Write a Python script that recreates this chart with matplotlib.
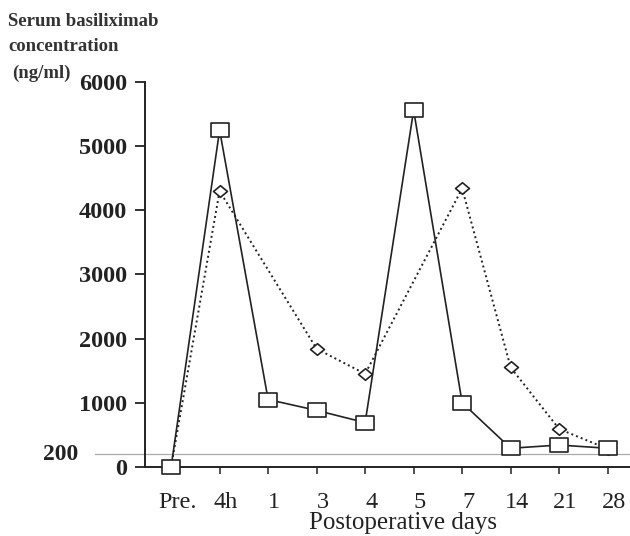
import matplotlib.pyplot as plt
import numpy as np
from matplotlib.path import Path
from matplotlib.transforms import blended_transform_factory

days = ['Pre.', '4h', '1', '3', '4', '5', '7', '14', '21', '28']
squares = [0, 5250, 1050, 880, 690, 5560, 1000, 290, 340, 290]
diamonds = [0, 4300, np.nan, 1840, 1450, np.nan, 4340, 1550, 590, 280]

plt.rcParams['font.family'] = ['Liberation Serif', 'DejaVu Serif']
ink = '#222222'

# wider-than-tall boxes and diamonds, like the scan
box = Path([(-0.7, -0.5), (0.7, -0.5), (0.7, 0.5), (-0.7, 0.5), (-0.7, -0.5)],
           [Path.MOVETO, Path.LINETO, Path.LINETO, Path.LINETO, Path.CLOSEPOLY])
dia = Path([(-0.6, 0), (0, 0.5), (0.6, 0), (0, -0.5), (-0.6, 0)],
           [Path.MOVETO, Path.LINETO, Path.LINETO, Path.LINETO, Path.CLOSEPOLY])

fig = plt.figure(figsize=(6.3, 5.36), dpi=100)
ax = fig.add_axes([0.230, 0.129, 0.77, 0.718])

x = np.arange(len(days))
d = np.array(diamonds)
ok = ~np.isnan(d)
ax.plot(x[ok], d[ok], linestyle=(0, (1, 1.6)), color=ink, lw=1.4,
        marker=dia, markersize=10, markerfacecolor='white',
        markeredgecolor=ink, markeredgewidth=1.2, clip_on=False, zorder=3)
ax.plot(x, squares, '-', color=ink, lw=1.2,
        marker=box, markersize=13.5, markerfacecolor='white',
        markeredgecolor=ink, markeredgewidth=1.2, clip_on=False, zorder=4)

# faint 200 ng/ml reference line
tr = blended_transform_factory(ax.transAxes, ax.transData)
ax.plot([-0.103, 1.0], [200, 200], color='#aaaaaa', lw=0.9, transform=tr,
        clip_on=False, zorder=1)
ax.text(-0.211, 200, '200', transform=tr, ha='left', va='center',
        fontsize=17, fontweight='bold', color=ink)

ax.set_xlim(-0.54, 9.46)
ax.set_ylim(0, 6000)
ax.set_yticks([0, 1000, 2000, 3000, 4000, 5000, 6000])
# tick marks on the days, labels sit a little to the right (as in the scan)
ax.set_xticks(x)
ax.set_xticklabels([])
ax.set_xticks(x + 0.13, minor=True)
ax.set_xticklabels(days, minor=True, fontsize=17.5, color=ink)
ax.tick_params(axis='x', which='minor', length=0, pad=18)
for lab in ax.get_yticklabels():
    lab.set_fontsize(17.5)
    lab.set_fontweight('bold')
    lab.set_color(ink)
ax.tick_params(axis='y', direction='out', length=7, width=1.3, pad=6, colors=ink)
ax.tick_params(axis='x', which='major', direction='out', length=5, width=1.1,
               colors=ink)

ax.spines['top'].set_visible(False)
ax.spines['right'].set_visible(False)
ax.spines['left'].set_linewidth(1.4)
ax.spines['bottom'].set_linewidth(1.4)
ax.spines['left'].set_color(ink)
ax.spines['bottom'].set_color(ink)

ax.set_xlabel('Postoperative days', fontsize=18, color=ink)
ax.xaxis.set_label_coords(0.532, -0.118)
fig.text(0.013, 0.975, 'Serum basiliximab\nconcentration',
         ha='left', va='top', fontsize=13.5, fontweight='bold',
         color='#333333', linespacing=1.58)
fig.text(0.019, 0.864, '(ng/ml)', ha='left', va='center', fontsize=13.5,
         fontweight='bold', color='#333333')

fig.savefig('out.png', dpi=100)
